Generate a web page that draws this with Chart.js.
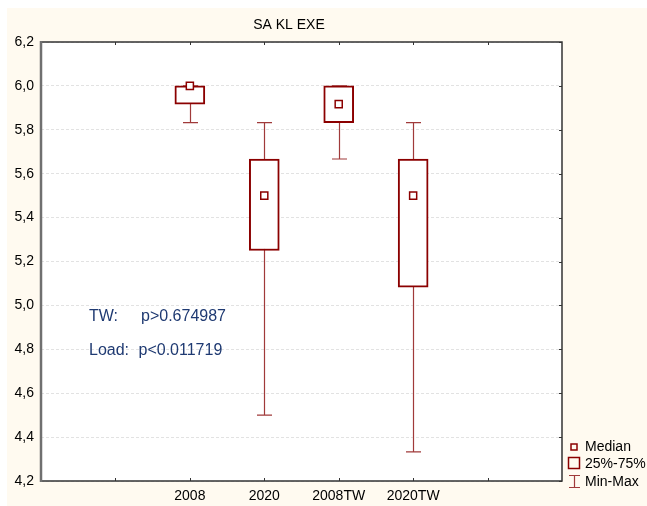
<!DOCTYPE html>
<html>
<head>
<meta charset="utf-8">
<script src="https://cdn.jsdelivr.net/npm/chart.js@4.4.0/dist/chart.umd.min.js"></script>
<style>
  html, body { margin: 0; padding: 0; background: #fff; overflow: hidden; }
  canvas { display: block; }
</style>
</head>
<body>
<canvas id="chart" width="647" height="506"></canvas>
<script>
// box plot data
const groups  = ['2008', '2020', '2008TW', '2020TW'];
const mins    = [5.833, 4.5, 5.667, 4.333];
const q1s     = [5.917, 5.25, 5.833, 5.083];
const medians = [6.0, 5.5, 5.917, 5.5];
const q3s     = [6.0, 5.667, 6.0, 5.667];
const maxs    = [6.0, 5.833, 6.0, 5.833];

// x axis has two empty slots on the left and two on the right
const slots = ['', ''].concat(groups, ['', '']);
const firstSlot = 2;

const yMin = 4.2, yMax = 6.2, yStep = 0.2;

const title = 'SA KL EXE';
const notes = [
    ['TW:', 'p>0.674987'],
    ['Load:', 'p<0.011719']
];
const legendItems = ['Median', '25%-75%', 'Min-Max'];

const BOX = '#8b0000';
const WHISK = '#a03a3a';
const FONT = "'Liberation Sans', Arial, sans-serif";

Chart.defaults.font.family = FONT;

function bySlot(fn) {
    return slots.map((s, i) => {
        const g = i - firstSlot;
        return (g >= 0 && g < groups.length) ? fn(g) : null;
    });
}

// background, whiskers, frame and extra texts
const boxPlotExtras = {
    id: 'boxPlotExtras',
    beforeDraw(chart) {
        const ctx = chart.ctx;
        const a = chart.chartArea;
        ctx.save();
        ctx.fillStyle = '#ffffff';
        ctx.fillRect(0, 0, chart.width, chart.height);
        ctx.fillStyle = '#fffaf0';
        ctx.fillRect(7, 8, chart.width - 7, chart.height - 8);
        ctx.fillStyle = '#ffffff';
        ctx.fillRect(a.left, a.top, a.right - a.left, a.bottom - a.top);
        ctx.restore();
    },
    beforeDatasetsDraw(chart) {
        const ctx = chart.ctx;
        const xs = chart.scales.x, ys = chart.scales.y;
        ctx.save();
        ctx.strokeStyle = WHISK;
        ctx.lineWidth = 1.2;
        groups.forEach((g, i) => {
            const x = Math.round(xs.getPixelForValue(i + firstSlot)) + 0.5;
            const top = ys.getPixelForValue(maxs[i]);
            const bot = ys.getPixelForValue(mins[i]);
            ctx.beginPath();
            ctx.moveTo(x, top);
            ctx.lineTo(x, bot);
            ctx.moveTo(x - 7.5, top);
            ctx.lineTo(x + 7.5, top);
            ctx.moveTo(x - 7.5, bot);
            ctx.lineTo(x + 7.5, bot);
            ctx.stroke();
        });
        ctx.restore();
    },
    afterDatasetsDraw(chart) {
        const ctx = chart.ctx;
        const a = chart.chartArea;
        const xs = chart.scales.x, ys = chart.scales.y;
        ctx.save();
        // frame
        ctx.strokeStyle = '#333';
        ctx.lineWidth = 1.5;
        ctx.beginPath();
        ctx.moveTo(a.left, a.top);
        ctx.lineTo(a.right, a.top);
        ctx.lineTo(a.right, a.bottom);
        ctx.lineTo(a.left, a.bottom);
        ctx.stroke();
        ctx.strokeStyle = '#707070';
        ctx.lineWidth = 2.5;
        ctx.beginPath();
        ctx.moveTo(a.left, a.top - 1);
        ctx.lineTo(a.left, a.bottom + 1);
        ctx.stroke();
        // inward ticks
        ctx.strokeStyle = '#333';
        ctx.lineWidth = 1;
        ctx.beginPath();
        for (let i = 1; i < slots.length - 1; i++) {
            const x = Math.round(xs.getPixelForValue(i)) + 0.5;
            ctx.moveTo(x, a.top);
            ctx.lineTo(x, a.top + 3);
            ctx.moveTo(x, a.bottom);
            ctx.lineTo(x, a.bottom - 3);
        }
        ys.ticks.forEach(t => {
            const y = Math.round(ys.getPixelForValue(t.value)) + 0.5;
            ctx.moveTo(a.right, y);
            ctx.lineTo(a.right - 3, y);
        });
        ctx.stroke();
        ctx.restore();
    },
    afterDraw(chart) {
        const ctx = chart.ctx;
        ctx.save();
        ctx.textBaseline = 'middle';

        // title
        ctx.fillStyle = '#000';
        ctx.font = '14px ' + FONT;
        ctx.textAlign = 'center';
        ctx.fillText(title, 289, 25);

        // test results
        ctx.textAlign = 'left';
        ctx.fillStyle = '#1f3a72';
        ctx.font = '16px ' + FONT;
        ctx.fillText(notes[0][0], 89, 317);
        ctx.fillText(notes[0][1], 141, 317);
        ctx.fillText(notes[1][0], 89, 351);
        ctx.fillText(notes[1][1], 138.5, 351);

        // legend
        ctx.fillStyle = '#000';
        ctx.font = '14px ' + FONT;
        ctx.fillText(legendItems[0], 585, 447);
        ctx.fillText(legendItems[1], 585, 464);
        ctx.fillText(legendItems[2], 585, 482);

        ctx.strokeStyle = BOX;
        ctx.lineWidth = 1.5;
        ctx.strokeRect(571, 444, 6, 6);
        ctx.strokeRect(568.5, 457.5, 11, 11);

        ctx.strokeStyle = WHISK;
        ctx.lineWidth = 1.2;
        ctx.beginPath();
        ctx.moveTo(574.5, 475);
        ctx.lineTo(574.5, 487);
        ctx.moveTo(569, 475.5);
        ctx.lineTo(580, 475.5);
        ctx.moveTo(569, 487.5);
        ctx.lineTo(580, 487.5);
        ctx.stroke();
        ctx.restore();
    }
};

new Chart(document.getElementById('chart'), {
    type: 'bar',
    data: {
        labels: slots,
        datasets: [
            {
                type: 'line',
                label: 'Median',
                data: bySlot(g => medians[g]),
                showLine: false,
                pointStyle: 'rect',
                pointRadius: 5,
                pointHoverRadius: 5,
                pointBackgroundColor: '#fff',
                pointBorderColor: BOX,
                pointBorderWidth: 1.5,
                order: 0
            },
            {
                type: 'bar',
                label: '25%-75%',
                data: bySlot(g => [q1s[g], q3s[g]]),
                backgroundColor: '#fff',
                borderColor: BOX,
                borderWidth: 2,
                borderSkipped: false,
                barThickness: 30,
                grouped: false,
                order: 1
            }
        ]
    },
    options: {
        responsive: false,
        devicePixelRatio: 1,
        animation: false,
        layout: { padding: { top: 42, right: 85, left: 0, bottom: 0 } },
        plugins: {
            legend: { display: false },
            tooltip: { enabled: false },
            title: { display: false }
        },
        scales: {
            x: {
                type: 'category',
                offset: false,
                grid: { display: false, drawTicks: false },
                border: { display: false },
                ticks: {
                    color: '#000',
                    font: { size: 14 },
                    padding: 7,
                    autoSkip: false,
                    maxRotation: 0
                },
                afterFit(s) { s.height = 25; }
            },
            y: {
                min: yMin,
                max: yMax,
                grid: { color: '#e2e2e2', drawTicks: false },
                border: { display: false, dash: [3, 2] },
                ticks: {
                    stepSize: yStep,
                    color: '#000',
                    font: { size: 14 },
                    padding: 7,
                    callback: v => v.toFixed(1).replace('.', ',')
                },
                afterFit(s) { s.width = 41; }
            }
        }
    },
    plugins: [boxPlotExtras]
});
</script>
</body>
</html>
